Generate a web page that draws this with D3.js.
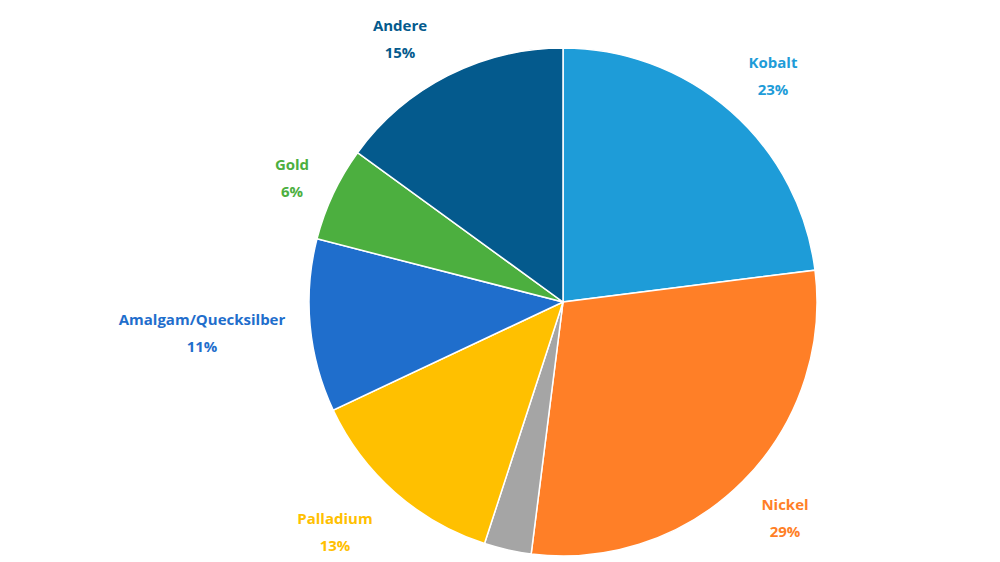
<!DOCTYPE html>
<html><head><meta charset="utf-8">
<script src="https://cdn.jsdelivr.net/npm/d3@7"></script>
<style>body{margin:0;background:#fff}</style></head>
<body><svg width="1000" height="562"></svg>
<script>
const categories = ["Kobalt","Nickel","","Palladium","Amalgam/Quecksilber","Gold","Andere"];
const values = [23,29,3,13,11,6,15];
const colors = ["#1E9CD8","#FF7F27","#A5A5A5","#FFC000","#1F6ECC","#4CAF3F","#045A8D"];
const labelPos = [[773,63],[785,505],null,[335,519],[202,320],[292,165],[400,26]];
const svg = d3.select("svg");
const cx=563, cy=302, r=254;
const pie = d3.pie().sort(null).value(d=>d);
const arc = d3.arc().innerRadius(0).outerRadius(r);
const g = svg.append("g").attr("transform",`translate(${cx},${cy})`);
g.selectAll("path").data(pie(values)).join("path")
 .attr("d",arc).attr("fill",(d,i)=>colors[i]).attr("stroke","#fff").attr("stroke-width",1.5);
categories.forEach((c,i)=>{
  if(!c) return;
  const t = svg.append("text").attr("x",labelPos[i][0]).attr("y",labelPos[i][1])
   .attr("text-anchor","middle").attr("fill",colors[i])
   .attr("font-family","Open Sans, sans-serif").attr("font-weight","bold").attr("font-size",15);
  t.append("tspan").attr("x",labelPos[i][0]).attr("dy","0.35em").text(c);
  t.append("tspan").attr("x",labelPos[i][0]).attr("dy","1.75em").text(values[i]+"%");
});
</script></body></html>
